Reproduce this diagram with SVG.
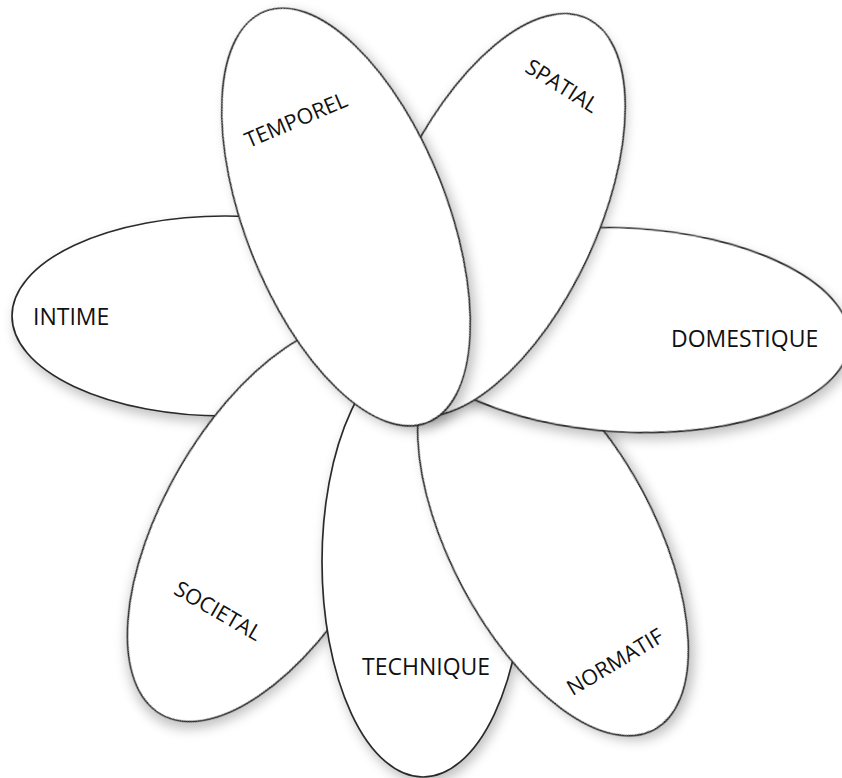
<svg xmlns="http://www.w3.org/2000/svg" width="842" height="778" viewBox="0 0 842 778">
  <style>
    .petal { fill: #ffffff; stroke: #2b2b2b; stroke-width: 1.7; filter: url(#shadow); }
    .lbl { font-family: "Open Sans", "Liberation Sans", sans-serif; font-size: 21.5px; fill: #111111; }
    .flat { font-size: 23px; }
    .mid { text-anchor: middle; }
  </style>
  <defs>
    <filter id="shadow" x="-30%" y="-30%" width="160%" height="160%">
      <feDropShadow dx="3" dy="6" stdDeviation="6" flood-color="#000000" flood-opacity="0.24"/>
    </filter>
  </defs>
  <rect width="842" height="778" fill="#ffffff"/>
  <g id="connectors"></g>
  <g id="intime">
    <ellipse class="petal" cx="225" cy="316" rx="213" ry="100"/>
    <text class="lbl flat" x="33" y="325">INTIME</text>
  </g>
  <g id="societal">
    <ellipse class="petal" cx="272" cy="522" rx="107" ry="222" transform="rotate(30 272 522)"/>
    <text class="lbl mid" transform="translate(218 611) rotate(30)" x="0" y="7.5">SOCIETAL</text>
  </g>
  <g id="technique">
    <ellipse class="petal" cx="423" cy="562" rx="101" ry="215"/>
    <text class="lbl flat" x="362" y="675">TECHNIQUE</text>
  </g>
  <g id="normatif">
    <ellipse class="petal" cx="553" cy="540" rx="102" ry="215" transform="rotate(-28 553 540)"/>
    <text class="lbl mid" transform="translate(615 662) rotate(-31)" x="0" y="7.5">NORMATIF</text>
  </g>
  <g id="domestique">
    <ellipse class="petal" cx="625" cy="330" rx="225" ry="102" transform="rotate(3 625 330)"/>
    <text class="lbl flat" x="671" y="347">DOMESTIQUE</text>
  </g>
  <g id="spatial">
    <ellipse class="petal" cx="495" cy="215" rx="102" ry="217" transform="rotate(25 495 215)"/>
    <text class="lbl mid" transform="translate(562 86) rotate(32)" x="0" y="7.5">SPATIAL</text>
  </g>
  <g id="temporel">
    <ellipse class="petal" cx="346" cy="217" rx="101" ry="221" transform="rotate(-21.6 346 217)"/>
    <text class="lbl mid" transform="translate(296 120) rotate(-23)" x="0" y="7.5">TEMPOREL</text>
  </g>
</svg>
